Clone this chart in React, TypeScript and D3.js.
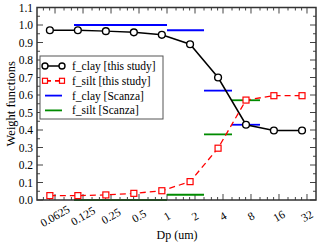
import React from 'react';
import * as d3 from 'd3';

// particle diameters (um) of "this study" points
const dp = [0.055, 0.11, 0.22, 0.44, 0.88, 1.77, 3.54, 7.07, 14.1, 28.3];
const fClay = [0.97, 0.97, 0.965, 0.958, 0.944, 0.89, 0.70, 0.43, 0.397, 0.397];
const fSilt = [0.025, 0.025, 0.029, 0.038, 0.053, 0.105, 0.296, 0.571, 0.596, 0.596];

// Scanza bins
const scanzaBins = [[0.1, 1], [1, 2.5], [2.5, 5], [5, 10]];
const scanzaClay = [1.0, 0.97, 0.625, 0.43];
const scanzaSilt = [0.0, 0.03, 0.375, 0.57];

const xTickValues = [0.0625, 0.125, 0.25, 0.5, 1, 2, 4, 8, 16, 32];
const xTickLabels = ['0.0625', '0.125', '0.25', '0.5', '1', '2', '4', '8', '16', '32'];
const yTickValues = [0, 0.1, 0.2, 0.3, 0.4, 0.5, 0.6, 0.7, 0.8, 0.9, 1.0, 1.1];

const legendItems = [
  { label: 'f_clay [this study]', color: '#000', dash: null, marker: 'circle' },
  { label: 'f_silt [this study]', color: '#ff0000', dash: '6,4', marker: 'square' },
  { label: 'f_clay [Scanza]', color: '#0000ff', dash: null, marker: null },
  { label: 'f_silt [Scanza]', color: '#008b00', dash: null, marker: null },
];

const W = 320;
const H = 245;
const left = 37, right = 316, top = 7.5, bottom = 200;
const font = "'Liberation Serif', 'Times New Roman', 'DejaVu Serif', serif";

const App = () => {
  const x = d3.scaleLog().base(2).domain([0.04, 40]).range([left, right]);
  const y = d3.scaleLinear().domain([0, 1.1]).range([bottom, top]);

  const line = d3.line<[number, number]>().x(d => x(d[0])).y(d => y(d[1]));
  const clayPts = dp.map((d, i) => [d, fClay[i]] as [number, number]);
  const siltPts = dp.map((d, i) => [d, fSilt[i]] as [number, number]);

  // minor x ticks: 1.25, 1.5, 1.75 within each octave
  const xMinor: number[] = [];
  [0.03125, ...xTickValues].forEach(m => {
    [1.25, 1.5, 1.75].forEach(f => {
      const v = m * f;
      if (v > 0.04 && v < 40) xMinor.push(v);
    });
  });
  const yMinor = d3.range(0.05, 1.1, 0.1);

  const tickColor = '#444';
  const txt = { fontFamily: font };

  return (
    <svg width={W} height={H} style={{ position: 'absolute', left: 0, top: 0, background: '#fff', fontFamily: font }}>
      {/* ticks */}
      <g stroke={tickColor} strokeWidth={1}>
        {xTickValues.map(v => (
          <g key={'xm' + v}>
            <line x1={x(v)} x2={x(v)} y1={bottom} y2={bottom - 6} />
            <line x1={x(v)} x2={x(v)} y1={top} y2={top + 6} />
          </g>
        ))}
        {xMinor.map(v => (
          <g key={'xn' + v}>
            <line x1={x(v)} x2={x(v)} y1={bottom} y2={bottom - 3} />
            <line x1={x(v)} x2={x(v)} y1={top} y2={top + 3} />
          </g>
        ))}
        {yTickValues.map(v => (
          <g key={'ym' + v}>
            <line x1={left} x2={left + 6} y1={y(v)} y2={y(v)} />
            <line x1={right} x2={right - 6} y1={y(v)} y2={y(v)} />
          </g>
        ))}
        {yMinor.map(v => (
          <g key={'yn' + v}>
            <line x1={left} x2={left + 3} y1={y(v)} y2={y(v)} />
            <line x1={right} x2={right - 3} y1={y(v)} y2={y(v)} />
          </g>
        ))}
      </g>

      {/* Scanza segments */}
      {scanzaBins.map((b, i) => (
        <g key={'sc' + i} strokeWidth={1.8}>
          <line x1={x(b[0])} x2={x(b[1])} y1={y(scanzaClay[i])} y2={y(scanzaClay[i])} stroke="#0000ff" />
          <line x1={x(b[0])} x2={x(b[1])} y1={y(scanzaSilt[i])} y2={y(scanzaSilt[i])} stroke="#008b00" />
        </g>
      ))}

      {/* this study */}
      <path d={line(clayPts) || ''} fill="none" stroke="#000" strokeWidth={1.5} />
      <path d={line(siltPts) || ''} fill="none" stroke="#ff0000" strokeWidth={1.3} strokeDasharray="6,4" />
      {clayPts.map((p, i) => (
        <circle key={'c' + i} cx={x(p[0])} cy={y(p[1])} r={3.4} fill="#fff" stroke="#000" strokeWidth={1.4} />
      ))}
      {siltPts.map((p, i) => (
        <rect key={'s' + i} x={x(p[0]) - 3} y={y(p[1]) - 3} width={6} height={6} fill="#fff" stroke="#ff0000" strokeWidth={1.2} />
      ))}

      {/* frame */}
      <rect x={left} y={top} width={right - left} height={bottom - top} fill="none" stroke="#333" strokeWidth={1.5} />

      {/* tick labels */}
      {yTickValues.map(v => (
        <text key={'yl' + v} x={33} y={y(v)} textAnchor="end" dominantBaseline="central" fontSize={11.5} fill="#000" style={txt}>
          {v.toFixed(1)}
        </text>
      ))}
      {xTickValues.map((v, i) => (
        <text key={'xl' + v} transform={`translate(${x(v)},${216}) rotate(-30)`} textAnchor="middle"
          dominantBaseline="central" fontSize={11.5} fill="#000" style={txt}>
          {xTickLabels[i]}
        </text>
      ))}

      {/* axis titles */}
      <text x={177} y={239} textAnchor="middle" fontSize={12} fill="#000" style={txt}>Dp (um)</text>
      <text transform={`translate(15,${(top + bottom) / 2}) rotate(-90)`} textAnchor="middle" fontSize={12.5} fill="#000" style={txt}>
        Weight functions
      </text>

      {/* legend */}
      <g>
        <rect x={40} y={56} width={123} height={63} fill="#fff" stroke="#555" strokeWidth={1} />
        {legendItems.map((it, i) => {
          const ly = 66 + i * 14.8;
          return (
            <g key={'lg' + i}>
              <line x1={45} x2={62} y1={ly} y2={ly} stroke={it.color} strokeWidth={it.marker === 'circle' ? 1.5 : 1.8}
                strokeDasharray={it.dash || undefined} />
              {it.marker === 'circle' && [45, 62].map(cx => (
                <circle key={cx} cx={cx} cy={ly} r={3} fill="#fff" stroke="#000" strokeWidth={1.4} />
              ))}
              {it.marker === 'square' && [45, 62].map(cx => (
                <rect key={cx} x={cx - 2.5} y={ly - 2.5} width={5} height={5} fill="#fff" stroke="#ff0000" strokeWidth={1.2} />
              ))}
              <text x={72} y={ly} dominantBaseline="central" fontSize={11.5} fill="#000" style={txt}>{it.label}</text>
            </g>
          );
        })}
      </g>
    </svg>
  );
};

export default App;
